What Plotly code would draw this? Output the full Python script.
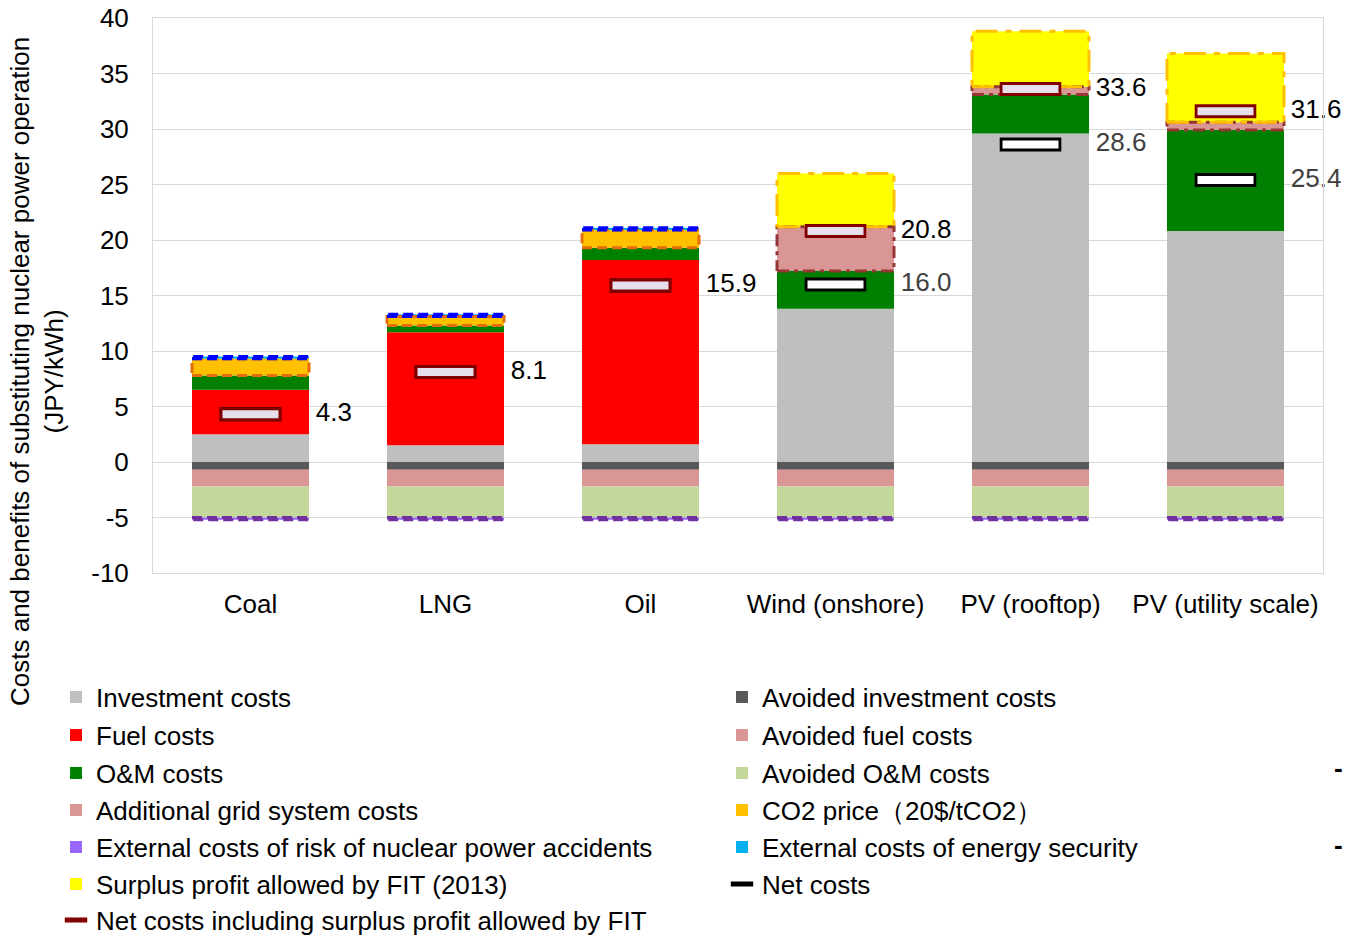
import plotly.graph_objects as go

# ---------------- data ----------------
categories = ["Coal", "LNG", "Oil", "Wind (onshore)", "PV (rooftop)", "PV (utility scale)"]

investment = [2.5, 1.5, 1.6, 13.8, 29.6, 20.8]
fuel = [4.0, 10.2, 16.6, 0.0, 0.0, 0.0]
om = [1.3, 0.6, 1.1, 3.4, 3.5, 9.1]
grid = [0.0, 0.0, 0.0, 4.0, 0.7, 0.7]
co2 = [1.5, 0.8, 1.6, 0.0, 0.0, 0.0]
security = [0.2, 0.2, 0.2, 0.0, 0.0, 0.0]
fit_surplus = [0.0, 0.0, 0.0, 4.8, 5.0, 6.2]

avoided_investment = [-0.7, -0.7, -0.7, -0.7, -0.7, -0.7]
avoided_fuel = [-1.5, -1.5, -1.5, -1.5, -1.5, -1.5]
avoided_om = [-2.8, -2.8, -2.8, -2.8, -2.8, -2.8]
nuclear_risk = [-0.2, -0.2, -0.2, -0.2, -0.2, -0.2]

net_costs = [4.3, 8.1, 15.9, 16.0, 28.6, 25.4]
net_costs_fit = [4.3, 8.1, 15.9, 20.8, 33.6, 31.6]

y_tick_values = [-10, -5, 0, 5, 10, 15, 20, 25, 30, 35, 40]
y_tick_labels = ["-10", "-5", "0", "5", "10", "15", "20", "25", "30", "35", "40"]

# ---------------- styling ----------------
FONT = "Liberation Sans, Arial, sans-serif"
FS = 26
BAR_W = 0.6
LABEL_GAP = 0.035
xs = list(range(len(categories)))

fig = go.Figure()

def legend_id(k):
    return "legend" if k == 1 else f"legend{k}"

def add_bar(name, vals, color, k):
    fig.add_trace(go.Bar(
        x=xs, y=vals, name=name, width=BAR_W,
        marker=dict(color=color, line=dict(width=0)),
        legend=legend_id(k), hoverinfo="skip"))

# positive stack (order matters)
add_bar("Investment costs", investment, "#BFBFBF", 1)
add_bar("Fuel costs", fuel, "#FF0000", 2)
add_bar("O&M costs", om, "#008000", 3)
add_bar("Additional grid system costs", grid, "#D99694", 4)
add_bar("CO2 price（20$/tCO2）", co2, "#FFC000", 11)
add_bar("External costs of energy security", security, "#00B0F0", 12)
add_bar("Surplus profit allowed by FIT (2013)", fit_surplus, "#FFFF00", 6)
# negative stack
add_bar("Avoided investment costs", avoided_investment, "#595959", 8)
add_bar("Avoided fuel costs", avoided_fuel, "#DA9694", 9)
add_bar("Avoided O&M costs", avoided_om, "#C4D79B", 10)
add_bar("External costs of risk of nuclear power accidents", nuclear_risk, "#9966FF", 5)

# compute stack bases to draw dashed outlines
def bases(series_list):
    out = []
    acc = [0.0] * len(xs)
    for s in series_list:
        out.append(list(acc))
        acc = [a + v for a, v in zip(acc, s)]
    return out

pos_series = [investment, fuel, om, grid, co2, security, fit_surplus]
pos_bases = bases(pos_series)
neg_series = [avoided_investment, avoided_fuel, avoided_om, nuclear_risk]
neg_bases = bases(neg_series)

def outline(vals, base, color, dash):
    ox, oy = [], []
    for i, (v, b) in enumerate(zip(vals, base)):
        if v == 0:
            continue
        x0, x1 = i - BAR_W / 2, i + BAR_W / 2
        ox += [x0, x1, x1, x0, x0, None]
        oy += [b, b, b + v, b + v, b, None]
    fig.add_trace(go.Scatter(x=ox, y=oy, mode="lines", showlegend=False, hoverinfo="skip",
                             line=dict(color=color, width=3, dash=dash)))

outline(grid, pos_bases[3], "#953735", "12px,5px,4px,5px")
outline(co2, pos_bases[4], "#E46C0A", "10px,5px")
outline(security, pos_bases[5], "#0000FF", "10px,5px")
outline(fit_surplus, pos_bases[6], "#FFC000", "22px,8px,6px,8px")
outline(nuclear_risk, neg_bases[3], "#7030A0", "10px,5px")

# net cost markers (bordered rectangles)
def net_marker(vals, border, fill, name, k):
    fig.add_trace(go.Scatter(
        x=xs, y=vals, mode="markers", name=name, legend=legend_id(k), hoverinfo="skip",
        marker=dict(symbol="line-ew", size=44, color=border, line=dict(color=border, width=14))))
    fig.add_trace(go.Scatter(
        x=xs, y=vals, mode="markers", showlegend=False, hoverinfo="skip",
        marker=dict(symbol="line-ew", size=40, color=fill, line=dict(color=fill, width=8))))

net_marker(net_costs, "#000000", "#FFFFFF", "Net costs", 13)
net_marker(net_costs_fit, "#800000", "#E6E0EC", "Net costs including surplus profit allowed by FIT", 7)

# value labels
net_only_x = [i + BAR_W / 2 + LABEL_GAP for i in xs if net_costs[i] != net_costs_fit[i]]
net_only_y = [net_costs[i] for i in xs if net_costs[i] != net_costs_fit[i]]
fig.add_trace(go.Scatter(
    x=net_only_x, y=net_only_y, mode="text", showlegend=False, hoverinfo="skip",
    text=[f"{v:.1f}" for v in net_only_y], textposition="middle right",
    textfont=dict(family=FONT, size=FS, color="#404040"), cliponaxis=False))
fig.add_trace(go.Scatter(
    x=[i + BAR_W / 2 + LABEL_GAP for i in xs], y=net_costs_fit, mode="text", showlegend=False,
    hoverinfo="skip",
    text=[f"{v:.1f}" for v in net_costs_fit], textposition="middle right",
    textfont=dict(family=FONT, size=FS, color="#000000"), cliponaxis=False))

# ---------------- layout ----------------
L, R, T, B = 153, 22, 18, 367
W, H = 1345, 940
PW, PH = W - L - R, H - T - B

def px_x(p):
    return (p - L) / PW

def px_y(p):
    return (H - B - p) / PH

row_centers = [697, 735, 773, 810, 847, 884, 920]
col_text_x = [96, 762]
legend_layout = {}
for k in range(1, 14):
    if k <= 7:
        col, row = 0, k - 1
    else:
        col, row = 1, k - 8
    legend_layout[legend_id(k)] = dict(
        x=px_x(col_text_x[col] - 40), y=px_y(row_centers[row]),
        xanchor="left", yanchor="middle", bgcolor="rgba(0,0,0,0)",
        font=dict(family=FONT, size=FS, color="#000000"),
        itemwidth=30)

fig.update_layout(
    width=W, height=H,
    margin=dict(l=L, r=R, t=T, b=B, autoexpand=False),
    barmode="relative",
    bargap=0.4,
    plot_bgcolor="#FFFFFF", paper_bgcolor="#FFFFFF",
    font=dict(family=FONT, size=FS, color="#000000"),
    showlegend=True,
    **legend_layout,
    xaxis=dict(
        range=[-0.5, len(categories) - 0.5], tickmode="array", tickvals=xs, ticktext=categories,
        showgrid=False, showline=True, mirror=True, linecolor="#D9D9D9", linewidth=1,
        ticks="outside", ticklen=8, tickcolor="rgba(0,0,0,0)",
        tickfont=dict(family=FONT, size=FS, color="#000000"), zeroline=False),
    yaxis=dict(
        range=[-10, 40], tickmode="array", tickvals=y_tick_values, ticktext=y_tick_labels,
        showgrid=True, gridcolor="#D9D9D9", gridwidth=1,
        showline=True, mirror=True, linecolor="#D9D9D9", linewidth=1,
        ticks="outside", ticklen=18, tickcolor="rgba(0,0,0,0)",
        tickfont=dict(family=FONT, size=FS, color="#000000"), zeroline=False),
    annotations=[
        dict(text="Costs and benefits of substituting nuclear power operation<br>(JPY/kWh)",
             xref="paper", yref="paper", x=px_x(37), y=px_y(372), textangle=-90,
             xanchor="center", yanchor="middle", showarrow=False,
             font=dict(family=FONT, size=FS, color="#000000")),
        dict(text="<b>-</b>", xref="paper", yref="paper", x=px_x(1338), y=px_y(768),
             xanchor="center", yanchor="middle", showarrow=False,
             font=dict(family=FONT, size=FS, color="#000000")),
        dict(text="<b>-</b>", xref="paper", yref="paper", x=px_x(1338), y=px_y(845),
             xanchor="center", yanchor="middle", showarrow=False,
             font=dict(family=FONT, size=FS, color="#000000")),
    ],
)

fig.write_html("out.html")
